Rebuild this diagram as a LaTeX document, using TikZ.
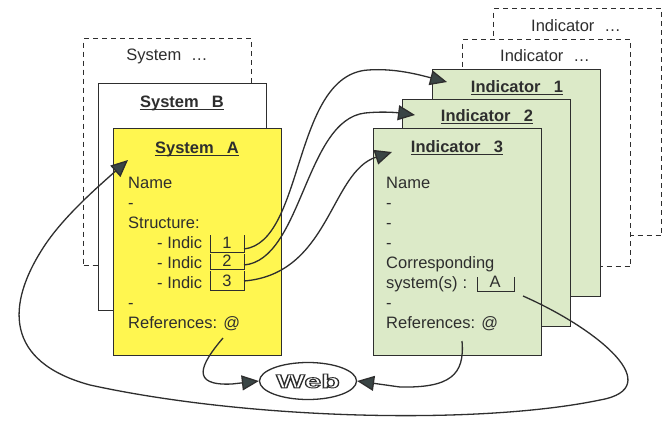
\documentclass[tikz,border=0pt]{standalone}
\usepackage{fontspec}
\setmainfont{Liberation Sans}
\usetikzlibrary{arrows.meta,shapes.geometric}
\definecolor{ink}{HTML}{2E2E2E}
\definecolor{tipfill}{HTML}{3A4545}
\definecolor{sysyellow}{HTML}{FFF650}
\definecolor{indgreen}{HTML}{DCEAC8}
% hollow (stroked only) lettering
\newcommand\hollowtext[1]{\special{pdf:code 1 Tr 0.9 w}#1\special{pdf:code 0 Tr}}

\begin{document}
\begin{tikzpicture}[x=1pt,y=-1pt,
  card/.style={draw=ink, line width=1.4pt, anchor=north west, minimum width=168pt, minimum height=227pt, inner sep=0pt},
  ghost/.style={card, line width=1.2pt, dash pattern=on 5pt off 4pt, fill=white},
  body/.style={font=\fontsize{16.5}{20}\selectfont, text=ink, anchor=base west, inner sep=0pt},
  head/.style={font=\bfseries\fontsize{16.5}{20}\selectfont, text=ink, anchor=base, inner sep=0pt},
  ghosthead/.style={font=\fontsize{16.5}{20}\selectfont, text=ink, anchor=base, inner sep=0pt},
  uline/.style={draw=ink, line width=1.2pt},
  link/.style={draw=ink, line width=1.3pt},
  arr/.style={link, -{Triangle[length=17pt,width=15pt,fill=tipfill]}},
  slot/.style={draw=ink, line width=0.7pt},
  slottext/.style={font=\fontsize{16.5}{20}\selectfont, text=ink, anchor=base, inner sep=0pt},
]
\useasboundingbox[fill=white] (0,0) rectangle (669,421);

% ---- system cards ----
\node[ghost] (sysN) at (83,38) {};
\node[card, fill=white] (sysB) at (98,83) {};
\node[card, fill=sysyellow] (sysA) at (113,128) {};

\node[ghosthead] (hN) at (167,60) {System\hspace{0.6em}\dots};
\node[head] (hB) at (182,107) {System\hspace{0.8em}B};
\draw[uline] ([yshift=-2.5pt]hB.base west) -- ([yshift=-2.5pt]hB.base east);
\node[head] (hA) at (197,153) {System\hspace{0.8em}A};
\draw[uline] ([yshift=-2.5pt]hA.base west) -- ([yshift=-2.5pt]hA.base east);

\node[body] (aName) at (128,188) {Name};
\node[body] (aD1) at (128,208) {-};
\node[body] (aStr) at (128,228) {Structure:};
\node[body] (aI1) at (157,248) {- Indic};
\node[body] (aI2) at (157,268) {- Indic};
\node[body] (aI3) at (157,288) {- Indic};
\node[body] (aD2) at (128,308) {-};
\node[body] (aRef) at (128,328) {References: @};

% indicator slots
\draw[slot] (210,235) -- (210,252) -- (244,252) -- (244,235);
\draw[slot] (210,254) -- (210,269) -- (244,269) -- (244,254);
\draw[slot] (210,271) -- (210,290) -- (244,290) -- (244,271);
\node[slottext] (n1) at (227,248) {1};
\node[slottext] (n2) at (227,266) {2};
\node[slottext] (n3) at (227,286) {3};

% ---- indicator cards ----
\node[ghost] (indN2) at (493,8) {};
\node[ghost] (indN1) at (462,39) {};
\node[card, fill=indgreen] (ind1) at (432,69) {};
\node[card, fill=indgreen] (ind2) at (402,99) {};
\node[card, fill=indgreen] (ind3) at (373,128) {};

\node[ghosthead] (hN2) at (576,31) {Indicator\hspace{0.6em}\dots};
\node[ghosthead] (hN1) at (545,61) {Indicator\hspace{0.6em}\dots};
\node[head] (h1) at (517,92) {Indicator\hspace{0.8em}1};
\draw[uline] ([yshift=-2.5pt]h1.base west) -- ([yshift=-2.5pt]h1.base east);
\node[head] (h2) at (487,121) {Indicator\hspace{0.8em}2};
\draw[uline] ([yshift=-2.5pt]h2.base west) -- ([yshift=-2.5pt]h2.base east);
\node[head] (h3) at (457,152) {Indicator\hspace{0.8em}3};
\draw[uline] ([yshift=-2.5pt]h3.base west) -- ([yshift=-2.5pt]h3.base east);

\node[body] (iName) at (386,188) {Name};
\node[body] (iD1) at (386,208) {-};
\node[body] (iD2) at (386,228) {-};
\node[body] (iD3) at (386,248) {-};
\node[body] (iCor) at (386,268) {Corresponding};
\node[body] (iSys) at (386,288) {system(s)\hspace{0.3em}:};
\node[body] (iD4) at (386,308) {-};
\node[body] (iRef) at (386,328) {References: @};

\draw[slot] (477,277) -- (477,291) -- (514,291) -- (514,277);
\node[slottext] (nA) at (495,287) {A};

% ---- web ----
\node[draw=ink, line width=1.3pt, fill=white, ellipse, minimum width=97pt, minimum height=37pt, inner sep=0pt, text=ink] (web) at (308,381)
  {\scalebox{1.6}[1]{\bfseries\fontsize{19}{20}\selectfont\hollowtext{Web}}};

% ---- connector ends ----
\coordinate (s1) at (244,249);
\coordinate (s2) at (244,265);
\coordinate (s3) at (244,281);
\coordinate (t1) at (447,82);
\coordinate (t2) at (415,115);
\coordinate (t3) at (392,152);
\coordinate (sA) at (523,296);
\coordinate (tA) at (128,160);
\coordinate (wA) at (223,338);
\coordinate (wI) at (462,341);

% ---- connectors ----
\draw[arr] (s1) .. controls (305,242) and (292,75) .. (368,70) .. controls (395,68) and (420,75) .. (t1);
\draw[arr] (s2) .. controls (302,260) and (305,120) .. (365,113) .. controls (385,111) and (400,113) .. (t2);
\draw[arr] (s3) .. controls (330,274) and (330,172) .. (t3);
\draw[arr] (sA) .. controls (600,330) and (668,388) .. (600,400)
  .. controls (480,425) and (250,420) .. (90,385)
  .. controls (5,362) and (5,305) .. (45,245)
  .. controls (65,215) and (100,185) .. (tA);
\draw[arr] (wA) .. controls (200,365) and (190,386) .. (232,384) -- (web.west);
\draw[arr] (wI) .. controls (465,375) and (450,388) .. (400,387) -- (web.east);
\end{tikzpicture}
\end{document}
